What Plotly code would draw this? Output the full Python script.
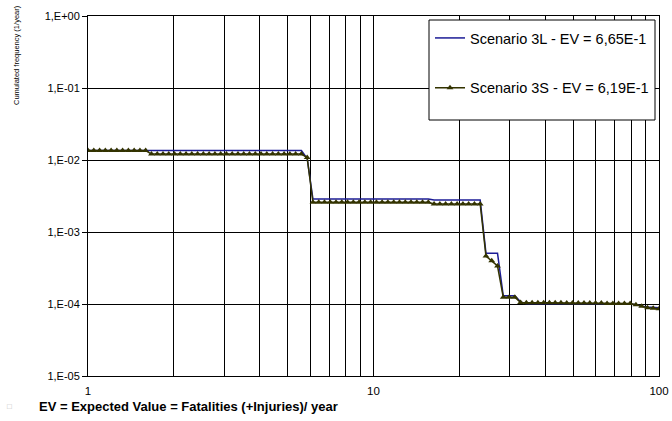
import plotly.graph_objects as go

# ---- data ----
x_values = [
    1.000, 1.048, 1.098, 1.150, 1.205, 1.262, 1.322, 1.385, 1.451, 1.520,
    1.592, 1.668, 1.748, 1.831, 1.918, 2.009, 2.105, 2.205, 2.310, 2.420,
    2.535, 2.656, 2.783, 2.915, 3.054, 3.199, 3.352, 3.511, 3.678, 3.854,
    4.037, 4.229, 4.431, 4.642, 4.863, 5.094, 5.337, 5.591, 5.857, 6.136,
    6.428, 6.734, 7.055, 7.391, 7.743, 8.111, 8.498, 8.902, 9.326, 9.770,
    10.24, 10.72, 11.23, 11.77, 12.33, 12.92, 13.53, 14.18, 14.85, 15.56,
    16.30, 17.08, 17.89, 18.74, 19.63, 20.57, 21.54, 22.57, 23.64, 24.77,
    25.95, 27.19, 28.48, 29.84, 31.26, 32.75, 34.30, 35.94, 37.65, 39.44,
    41.32, 43.29, 45.35, 47.51, 49.77, 52.14, 54.62, 57.22, 59.95, 62.80,
    65.79, 68.93, 72.21, 75.65, 79.25, 83.02, 86.97, 91.11, 95.45, 100.0,
]

scenario_3l = [
    1.35e-2, 1.35e-2, 1.35e-2, 1.35e-2, 1.35e-2, 1.35e-2, 1.35e-2, 1.35e-2, 1.35e-2, 1.35e-2,
    1.35e-2, 1.35e-2, 1.35e-2, 1.35e-2, 1.35e-2, 1.35e-2, 1.35e-2, 1.35e-2, 1.35e-2, 1.35e-2,
    1.35e-2, 1.35e-2, 1.35e-2, 1.35e-2, 1.35e-2, 1.35e-2, 1.35e-2, 1.35e-2, 1.35e-2, 1.35e-2,
    1.35e-2, 1.35e-2, 1.35e-2, 1.35e-2, 1.35e-2, 1.35e-2, 1.35e-2, 1.35e-2, 1.05e-2, 2.87e-3,
    2.87e-3, 2.87e-3, 2.87e-3, 2.87e-3, 2.87e-3, 2.87e-3, 2.87e-3, 2.87e-3, 2.87e-3, 2.87e-3,
    2.87e-3, 2.87e-3, 2.87e-3, 2.87e-3, 2.87e-3, 2.87e-3, 2.87e-3, 2.87e-3, 2.87e-3, 2.87e-3,
    2.78e-3, 2.78e-3, 2.78e-3, 2.78e-3, 2.78e-3, 2.78e-3, 2.78e-3, 2.78e-3, 2.78e-3, 5.06e-4,
    5.06e-4, 5.06e-4, 1.30e-4, 1.30e-4, 1.30e-4, 1.07e-4, 1.01e-4, 1.01e-4, 1.01e-4, 1.01e-4,
    1.01e-4, 1.01e-4, 1.01e-4, 1.01e-4, 1.01e-4, 1.01e-4, 1.00e-4, 1.00e-4, 1.00e-4, 1.00e-4,
    1.00e-4, 1.00e-4, 1.00e-4, 1.00e-4, 1.00e-4, 9.80e-5, 9.30e-5, 9.10e-5, 9.00e-5, 8.90e-5,
]

scenario_3s = [
    1.35e-2, 1.35e-2, 1.35e-2, 1.35e-2, 1.35e-2, 1.35e-2, 1.35e-2, 1.35e-2, 1.35e-2, 1.35e-2,
    1.35e-2, 1.21e-2, 1.21e-2, 1.21e-2, 1.21e-2, 1.21e-2, 1.21e-2, 1.21e-2, 1.21e-2, 1.21e-2,
    1.21e-2, 1.21e-2, 1.21e-2, 1.21e-2, 1.21e-2, 1.21e-2, 1.21e-2, 1.21e-2, 1.21e-2, 1.21e-2,
    1.21e-2, 1.21e-2, 1.21e-2, 1.21e-2, 1.21e-2, 1.21e-2, 1.21e-2, 1.21e-2, 1.08e-2, 2.59e-3,
    2.59e-3, 2.59e-3, 2.59e-3, 2.59e-3, 2.59e-3, 2.59e-3, 2.59e-3, 2.59e-3, 2.59e-3, 2.59e-3,
    2.59e-3, 2.59e-3, 2.59e-3, 2.59e-3, 2.59e-3, 2.59e-3, 2.59e-3, 2.59e-3, 2.59e-3, 2.59e-3,
    2.45e-3, 2.45e-3, 2.45e-3, 2.45e-3, 2.45e-3, 2.45e-3, 2.45e-3, 2.45e-3, 2.45e-3, 4.64e-4,
    4.00e-4, 3.37e-4, 1.24e-4, 1.24e-4, 1.24e-4, 1.05e-4, 1.04e-4, 1.04e-4, 1.04e-4, 1.04e-4,
    1.04e-4, 1.04e-4, 1.04e-4, 1.03e-4, 1.03e-4, 1.03e-4, 1.03e-4, 1.03e-4, 1.03e-4, 1.03e-4,
    1.02e-4, 1.02e-4, 1.02e-4, 1.02e-4, 1.02e-4, 9.80e-5, 9.30e-5, 8.90e-5, 8.70e-5, 8.60e-5,
]

series_names = ["Scenario 3L - EV = 6,65E-1", "Scenario 3S - EV = 6,19E-1"]

x_tick_values = [1, 2, 3, 4, 5, 6, 7, 8, 9, 10, 20, 30, 40, 50, 60, 70, 80, 90, 100]
x_tick_labels = ["1", "", "", "", "", "", "", "", "", "10",
                 "", "", "", "", "", "", "", "", "100"]
y_tick_values = [1, 1e-1, 1e-2, 1e-3, 1e-4, 1e-5]
y_tick_labels = ["1,E+00", "1,E-01", "1,E-02", "1,E-03", "1,E-04", "1,E-05"]

y_title = "Cumulated frequency (1/year)"
footnote = "EV = Expected Value = Fatalities (+Injuries)/ year"

# ---- layout geometry (pixels) ----
W, H = 672, 421
L, R, T, B = 88, 659, 16, 376
PW, PH = R - L, B - T


def px_x(p):
    return (p - L) / PW


def px_y(q):
    return (B - q) / PH


FONT = "Liberation Sans, Arial, sans-serif"

fig = go.Figure()
fig.add_trace(go.Scatter(
    x=x_values, y=scenario_3l, name=series_names[0], mode="lines",
    line=dict(color="#1c1c96", width=1.5), legendgroup="a",
))
fig.add_trace(go.Scatter(
    x=x_values, y=scenario_3s, name=series_names[1], mode="lines+markers",
    line=dict(color="#333300", width=1.5),
    marker=dict(symbol="triangle-up", size=6, color="#333300", line=dict(width=0)),
    legendgroup="b",
))

fig.update_layout(
    width=W, height=H,
    margin=dict(l=L, r=W - R, t=T, b=H - B, pad=0, autoexpand=False),
    paper_bgcolor="white", plot_bgcolor="white",
    font=dict(family=FONT, size=11, color="black"),
    showlegend=True,
    legend=dict(
        x=px_x(430), y=px_y(22), xanchor="left", yanchor="top",
        bgcolor="rgba(0,0,0,0)", borderwidth=0,
        font=dict(family=FONT, size=14.5, color="black"),
        tracegroupgap=28, traceorder="grouped", itemwidth=30,
    ),
    xaxis=dict(
        type="log", range=[0, 2], tickvals=x_tick_values, ticktext=x_tick_labels,
        showgrid=True, gridcolor="black", gridwidth=1,
        showline=True, linecolor="black", linewidth=1, mirror=True,
        ticks="", ticklabelstandoff=4, zeroline=False,
        tickfont=dict(family=FONT, size=11.5, color="black"),
    ),
    yaxis=dict(
        type="log", range=[-5, 0], tickvals=y_tick_values, ticktext=y_tick_labels,
        showgrid=True, gridcolor="black", gridwidth=1,
        showline=True, linecolor="black", linewidth=1, mirror=True,
        ticks="outside", ticklen=5, tickcolor="black", zeroline=False,
        tickfont=dict(family=FONT, size=11, color="black"),
    ),
    shapes=[dict(
        type="rect", xref="paper", yref="paper", layer="above",
        x0=px_x(429), x1=px_x(655), y0=px_y(120), y1=px_y(20),
        fillcolor="white", line=dict(color="black", width=1),
    )],
    annotations=[
        dict(text=y_title, xref="paper", yref="paper", x=px_x(17), y=px_y(55),
             xanchor="center", yanchor="middle", textangle=-90, showarrow=False,
             font=dict(family=FONT, size=7.5, color="black")),
        dict(text="\u25a1", xref="paper", yref="paper", x=px_x(9), y=px_y(407),
             xanchor="center", yanchor="middle", showarrow=False,
             font=dict(family=FONT, size=8, color="#bbbbbb")),
        dict(text="<b>" + footnote + "</b>", xref="paper", yref="paper", x=px_x(37), y=px_y(407),
             xanchor="left", yanchor="middle", showarrow=False,
             font=dict(family=FONT, size=13, color="black")),
    ],
)

fig.write_html(
    "out.html",
    config={"displayModeBar": False},
    post_script="document.body.style.margin='0';document.documentElement.style.overflow='hidden';",
)
